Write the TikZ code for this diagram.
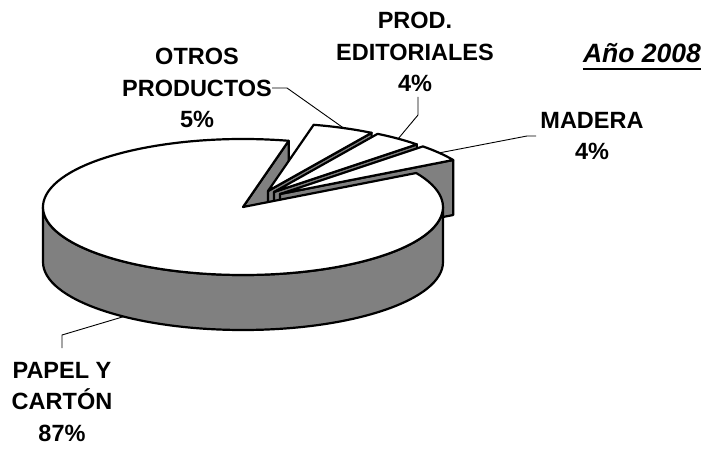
\documentclass[tikz,border=0pt]{standalone}
\usepackage{fontspec}
\setmainfont{Liberation Sans}
\usetikzlibrary{calc}
\newcommand\pieslice[4]{%
  \coordinate (#4A) at ($(C)+(#1)$);
  \filldraw[face] (#4A) -- ($(#4A)+(#2:200pt and 68pt)$) -- ++(0,-55pt) -- ($(#4A)+(0,-55pt)$) -- cycle;
  \filldraw[topface] (#4A) -- ($(#4A)+(#2:200pt and 68pt)$) arc[start angle=#2, end angle=#3, x radius=200pt, y radius=68pt] -- cycle;
  \coordinate (#4M) at ($(#4A)+({(#2+#3)/2}:200pt and 68pt)$);
}
\begin{document}
\begin{tikzpicture}[x=1pt,y=1pt,
  face/.style={fill=black!50, draw=black, line width=2.2pt, line join=round},
  topface/.style={fill=white, draw=black, line width=2.2pt, line join=round},
  leader/.style={draw=black, line width=0.9pt},
  lbl/.style={align=center, font=\fontsize{23.5}{31.5}\selectfont\bfseries, inner sep=0pt}]
\useasboundingbox (0,0) rectangle (712,448);
\coordinate (C) at (243,241);
% back radial face of the big slice
\filldraw[face] (C) -- ($(C)+(76.8:200pt and 68pt)$) -- ++(0,-55pt) -- ($(C)+(0,-55pt)$) -- cycle;
% exploded slices
\pieslice{25,16}{58.8}{76.8}{OT}
\pieslice{31,15}{44.4}{58.8}{PR}
\pieslice{37,13}{30}{44.4}{MA}
% big slice wall and top
\filldraw[face] ($(C)+(180:200pt and 68pt)$) arc[start angle=180,end angle=360,x radius=200pt,y radius=68pt] -- ++(0,-55pt) arc[start angle=360,end angle=180,x radius=200pt,y radius=68pt] -- cycle;
\filldraw[topface] (C) -- ($(C)+(76.8:200pt and 68pt)$) arc[start angle=76.8,end angle=390,x radius=200pt,y radius=68pt] -- cycle;
\coordinate (PM) at ($(C)+(233.4:200pt and 68pt)+(0,-55pt)$);
% labels
\node[lbl] (otros) at (197,360) {OTROS\\PRODUCTOS\\5\%};
\node[lbl] (prod) at (415,396) {PROD.\\EDITORIALES\\4\%};
\node[lbl] (madera) at (592,312) {MADERA\\4\%};
\node[lbl] (papel) at (62,46) {PAPEL Y\\CARTÓN\\87\%};
\node[font=\fontsize{26.5}{30}\selectfont\bfseries\itshape, inner sep=0pt, anchor=base] (year) at (642,385) {Año 2008};
\draw[line width=2.5pt] ($(year.base west)+(0,-6)$) -- ($(year.base east)+(0,-6)$);
% leaders
\coordinate (o1) at (272,360); \coordinate (o2) at (287,360);
\draw[leader] (o1) -- (o2) -- (OTM);
\coordinate (p1) at (418,351); \coordinate (p2) at (418,333);
\draw[leader] (p1) -- (p2) -- (PRM);
\coordinate (m1) at (536,312); \coordinate (m2) at (527,312);
\draw[leader] (m1) -- (m2) -- (MAM);
\coordinate (q1) at (62,100); \coordinate (q2) at (62,113);
\draw[leader] (q1) -- (q2) -- (PM);
\end{tikzpicture}
\end{document}
